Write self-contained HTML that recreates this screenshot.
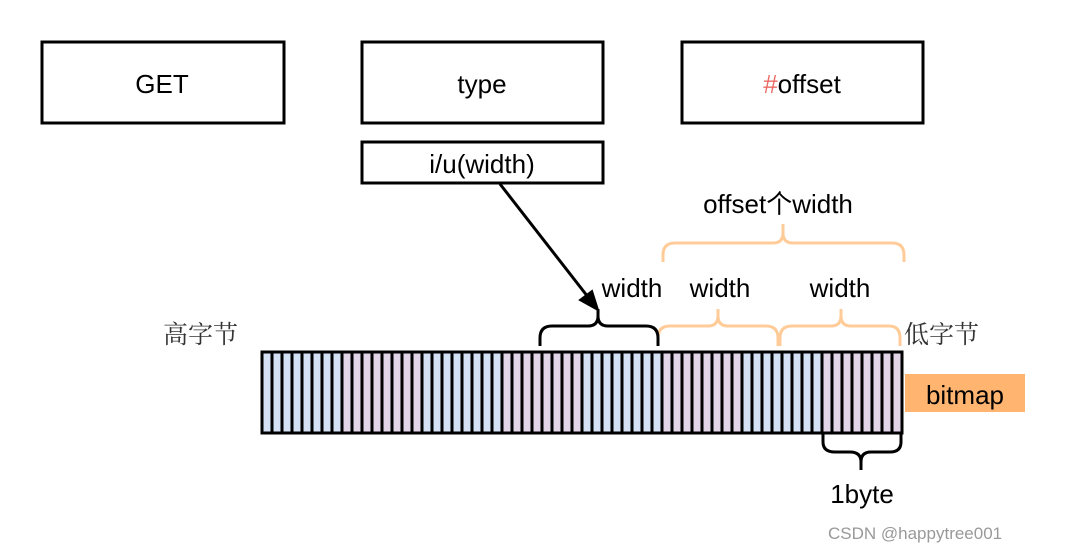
<!DOCTYPE html>
<html><head><meta charset="utf-8"><style>
body{margin:0;background:#fff;width:1066px;height:554px;overflow:hidden}
svg{display:block}
text{font-family:"Liberation Sans",Arial,sans-serif;font-size:26px;fill:#000}
.cjk{font-family:"Noto Serif CJK SC","Noto Sans CJK SC",serif;fill:#333;font-size:25px}
</style></head><body>
<svg width="1066" height="554" viewBox="0 0 1066 554" xmlns="http://www.w3.org/2000/svg">
<defs>
<pattern id="st" x="262" y="0" width="160" height="10" patternUnits="userSpaceOnUse">
<rect x="0" y="0" width="80" height="10" fill="#d4e1f5"/>
<rect x="80" y="0" width="80" height="10" fill="#e1d5e7"/>
</pattern>
</defs>
<rect x="42" y="42" width="242" height="81" fill="#fff" stroke="#000" stroke-width="3"/>
<text x="162" y="93" text-anchor="middle">GET</text>
<rect x="362" y="42" width="241" height="81" fill="#fff" stroke="#000" stroke-width="3"/>
<text x="482" y="93" text-anchor="middle">type</text>
<rect x="682" y="42" width="241" height="81" fill="#fff" stroke="#000" stroke-width="3"/>
<text x="802" y="93" text-anchor="middle"><tspan fill="#ea6b66">#</tspan>offset</text>
<rect x="362" y="142" width="241" height="41" fill="#fff" stroke="#000" stroke-width="3"/>
<text x="482" y="173" text-anchor="middle">i/u(width)</text>

<line x1="500" y1="184" x2="588" y2="297" stroke="#000" stroke-width="3"/>
<polygon points="598,310 580,300 592,291" fill="#000" stroke="#000" stroke-width="2"/>

<text x="778" y="213" text-anchor="middle">offset个width</text>
<text x="632" y="297" text-anchor="middle">width</text>
<text x="720" y="297" text-anchor="middle">width</text>
<text x="840" y="297" text-anchor="middle">width</text>

<g fill="none" stroke-width="3">
<path d="M663,262 V255 Q663,243 675,243 H773 Q783,243 783,233 V224 M783,233 Q783,243 793,243 H892 Q904,243 904,255 V262" stroke="#ffcc99"/>
<path d="M658,346 V338 Q658,326 670,326 H708 Q718,326 718,316 V309 M718,316 Q718,326 728,326 H766 Q778,326 778,338 V346" stroke="#ffcc99"/>
<path d="M780,346 V338 Q780,326 792,326 H831 Q841,326 841,316 V309 M841,316 Q841,326 851,326 H889 Q900,326 900,338 V346" stroke="#ffcc99"/>
<path d="M540,346 V338 Q540,326 552,326 H588 Q598,326 598,316 V309 M598,316 Q598,326 608,326 H646 Q658,326 658,338 V346" stroke="#000"/>
<path d="M823,434 V442 Q823,452 835,452 H850 Q861,452 861,462 V470 M861,462 Q861,452 871,452 H890 Q901,452 901,442 V434" stroke="#000"/>
</g>

<rect x="262" y="352" width="640" height="81" fill="url(#st)"/>
<path stroke="#000" stroke-width="3" fill="none" d="M272,352V433M282,352V433M292,352V433M302,352V433M312,352V433M322,352V433M332,352V433M342,352V433M352,352V433M362,352V433M372,352V433M382,352V433M392,352V433M402,352V433M412,352V433M422,352V433M432,352V433M442,352V433M452,352V433M462,352V433M472,352V433M482,352V433M492,352V433M502,352V433M512,352V433M522,352V433M532,352V433M542,352V433M552,352V433M562,352V433M572,352V433M582,352V433M592,352V433M602,352V433M612,352V433M622,352V433M632,352V433M642,352V433M652,352V433M662,352V433M672,352V433M682,352V433M692,352V433M702,352V433M712,352V433M722,352V433M732,352V433M742,352V433M752,352V433M762,352V433M772,352V433M782,352V433M792,352V433M802,352V433M812,352V433M822,352V433M832,352V433M842,352V433M852,352V433M862,352V433M872,352V433M882,352V433M892,352V433"/>
<rect x="262" y="352" width="640" height="81" fill="none" stroke="#000" stroke-width="3"/>
<text class="cjk" x="163" y="343">高字节</text>
<text class="cjk" x="904" y="343">低字节</text>
<rect x="905" y="374" width="120" height="38" fill="#ffb570"/>
<text x="965" y="404" text-anchor="middle">bitmap</text>
<text x="862" y="503" text-anchor="middle">1byte</text>
<text x="828" y="539" style="font-size:17px;fill:#999">CSDN @happytree001</text>
</svg>
</body></html>
